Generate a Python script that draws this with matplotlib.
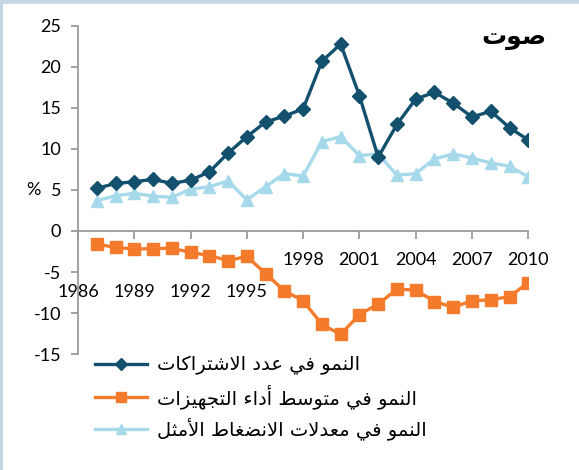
import matplotlib
matplotlib.use('Agg')
import matplotlib.pyplot as plt
from matplotlib.lines import Line2D

# data
years = list(range(1987, 2011))
subs = [5.2, 5.8, 6.0, 6.3, 5.8, 6.2, 7.2, 9.5, 11.5, 13.3, 14.0, 14.9, 20.7, 22.8,
        16.5, 9.0, 13.0, 16.1, 16.9, 15.6, 13.9, 14.6, 12.6, 11.1]
equip = [-1.6, -2.0, -2.2, -2.15, -2.1, -2.6, -3.0, -3.6, -3.1, -5.2, -7.3, -8.5,
         -11.4, -12.6, -10.2, -8.9, -7.1, -7.2, -8.6, -9.3, -8.5, -8.4, -8.0, -6.3]
compr = [3.7, 4.3, 4.6, 4.25, 4.1, 5.1, 5.4, 6.1, 3.8, 5.4, 7.0, 6.7, 10.9, 11.5,
         9.2, 9.4, 6.8, 7.0, 8.8, 9.4, 8.9, 8.3, 7.9, 6.6]
tick_years = [1986, 1989, 1992, 1995, 1998, 2001, 2004, 2007, 2010]
y_ticks = [-15, -10, -5, 0, 5, 10, 15, 20, 25]

title = 'صوت'
labels = ['النمو في عدد الاشتراكات',
          'النمو في متوسط أداء التجهيزات',
          'النمو في معدلات الانضغاط الأمثل']

# simple arabic shaping: matplotlib doesn't join letters or do RTL
DUAL = {'ب': 0xFE8F, 'ت': 0xFE95, 'ث': 0xFE99, 'ج': 0xFE9D, 'ح': 0xFEA1, 'خ': 0xFEA5,
        'س': 0xFEB1, 'ش': 0xFEB5, 'ص': 0xFEB9, 'ض': 0xFEBD, 'ط': 0xFEC1, 'ظ': 0xFEC5,
        'ع': 0xFEC9, 'غ': 0xFECD, 'ف': 0xFED1, 'ق': 0xFED5, 'ك': 0xFED9, 'ل': 0xFEDD,
        'م': 0xFEE1, 'ن': 0xFEE5, 'ه': 0xFEE9, 'ي': 0xFEF1}
RIGHT = {'ا': 0xFE8D, 'أ': 0xFE83, 'د': 0xFEA9, 'ذ': 0xFEAB, 'ر': 0xFEAD, 'ز': 0xFEAF,
         'و': 0xFEED, 'ى': 0xFEEF, 'ة': 0xFE93}
LAMALEF = {'ا': 0xFEFB, 'أ': 0xFEF7}


def shape(s):
    units = []
    i = 0
    while i < len(s):
        if s[i] == 'ل' and i + 1 < len(s) and s[i + 1] in LAMALEF:
            units.append(('LA', LAMALEF[s[i + 1]]))
            i += 2
        else:
            units.append(s[i])
            i += 1

    def jt(u):
        if isinstance(u, tuple) or u in RIGHT:
            return 'R'
        if u in DUAL:
            return 'D'
        return 'U'

    out = []
    for k, u in enumerate(units):
        t = jt(u)
        prev = k > 0 and jt(units[k - 1]) == 'D' and t in 'DR'
        nxt = t == 'D' and k + 1 < len(units) and jt(units[k + 1]) in 'DR'
        if isinstance(u, tuple):
            out.append(chr(u[1] + (1 if prev else 0)))
        elif t == 'D':
            off = 3 if (prev and nxt) else 1 if prev else 2 if nxt else 0
            out.append(chr(DUAL[u] + off))
        elif t == 'R':
            out.append(chr(RIGHT[u] + (1 if prev else 0)))
        elif u == 'ء':
            out.append('\uFE80')
        else:
            out.append(u)
    return ''.join(reversed(out))


plt.rcParams['font.family'] = ['Lato', 'DejaVu Sans']

c_dark = '#13506d'
c_orange = '#f47b2b'
c_light = '#a6d9ea'
c_axis = '#9a9a9a'

fig = plt.figure(figsize=(5.79, 4.70), dpi=100)
ax = fig.add_axes([0.1347, 0.2468, 0.9124 - 0.1347, 0.9447 - 0.2468])

ax.plot(years, compr, color=c_light, lw=2.4, marker='^', ms=9, zorder=2)
ax.plot(years, equip, color=c_orange, lw=2.4, marker='s', ms=8, zorder=3)
ax.plot(years, subs, color=c_dark, lw=2.4, marker='D', ms=7, zorder=4)

ax.set_xlim(1986, 2010)
ax.set_ylim(-15, 25)
ax.set_yticks(y_ticks)
ax.set_yticklabels([str(v) for v in y_ticks], fontsize=13)
ax.set_xticks(tick_years)
ax.set_xticklabels([])

for s in ['top', 'right']:
    ax.spines[s].set_visible(False)
ax.spines['bottom'].set_position(('data', 0))
ax.spines['left'].set_color(c_axis)
ax.spines['bottom'].set_color(c_axis)
ax.spines['left'].set_linewidth(1.3)
ax.spines['bottom'].set_linewidth(1.3)
ax.tick_params(axis='y', direction='out', length=5, color=c_axis, width=1.3, pad=7)
ax.tick_params(axis='x', direction='out', length=6, color=c_axis, width=1.3)

# year labels: first four sit lower, the rest just under the zero line
for yr in tick_years:
    ylab = -7.45 if yr <= 1995 else -3.55
    ax.text(yr, ylab, str(yr), ha='center', va='center', fontsize=13, clip_on=False)

ax.annotate('%', xy=(0, 5), xycoords=('axes fraction', 'data'), xytext=(-32, 0),
            textcoords='offset points', ha='center', va='center', fontsize=13)

ax.text(1.04, 0.963, shape(title), transform=ax.transAxes, ha='right', va='center',
        fontsize=18, fontweight='bold', family=['DejaVu Sans'], clip_on=False)

handles = [Line2D([], [], color=c_dark, lw=2.4, marker='D', ms=6),
           Line2D([], [], color=c_orange, lw=2.4, marker='s', ms=7),
           Line2D([], [], color=c_light, lw=2.4, marker='^', ms=7)]
leg = fig.legend(handles, [shape(l) for l in labels], loc='upper left',
                 bbox_to_anchor=(0.164, 0.243), frameon=False, handlelength=2.7,
                 handletextpad=0.5, labelspacing=0.45, borderpad=0, borderaxespad=0,
                 prop={'family': ['DejaVu Sans'], 'size': 14})

# thin frame on the top and left edges like the source
fig.add_artist(Line2D([0, 1], [0.997, 0.997], color='#c5d5e3', lw=4, transform=fig.transFigure))
fig.add_artist(Line2D([0.002, 0.002], [0, 1], color='#c5d5e3', lw=3, transform=fig.transFigure))

fig.savefig('out.png', dpi=100)
